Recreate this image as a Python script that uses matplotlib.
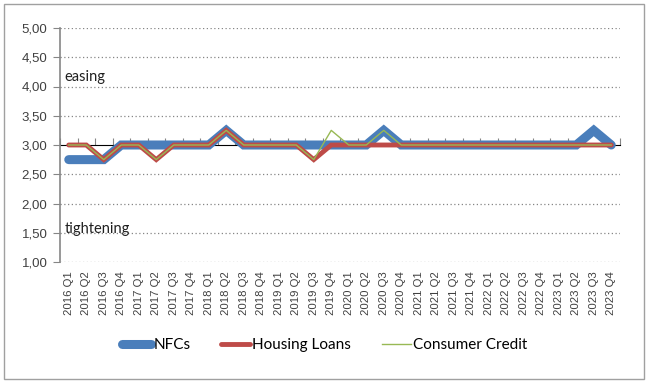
import matplotlib
matplotlib.use("Agg")
import matplotlib.pyplot as plt
from matplotlib.patches import Rectangle
from matplotlib.ticker import FixedLocator, NullFormatter

# quarters 2016 Q1 .. 2023 Q4
quarters = [f"{y} Q{q}" for y in range(2016, 2024) for q in range(1, 5)]

nfcs = [2.75, 2.75, 2.75, 3.0, 3.0, 3.0, 3.0, 3.0,
        3.0, 3.25, 3.0, 3.0, 3.0, 3.0, 3.0, 3.0,
        3.0, 3.0, 3.25, 3.0, 3.0, 3.0, 3.0, 3.0,
        3.0, 3.0, 3.0, 3.0, 3.0, 3.0, 3.25, 3.0]
housing = [3.0, 3.0, 2.75, 3.0, 3.0, 2.75, 3.0, 3.0,
           3.0, 3.25, 3.0, 3.0, 3.0, 3.0, 2.75, 3.0,
           3.0, 3.0, 3.0, 3.0, 3.0, 3.0, 3.0, 3.0,
           3.0, 3.0, 3.0, 3.0, 3.0, 3.0, 3.0, 3.0]
consumer = [3.0, 3.0, 2.75, 3.0, 3.0, 2.75, 3.0, 3.0,
            3.0, 3.25, 3.0, 3.0, 3.0, 3.0, 2.75, 3.25,
            3.0, 3.0, 3.25, 3.0, 3.0, 3.0, 3.0, 3.0,
            3.0, 3.0, 3.0, 3.0, 3.0, 3.0, 3.0, 3.0]
yticks = [1.0, 1.5, 2.0, 2.5, 3.0, 3.5, 4.0, 4.5, 5.0]

plt.rcParams['font.family'] = ['Liberation Sans', 'DejaVu Sans']
fig = plt.figure(figsize=(6.49, 3.84), dpi=100)
ax = fig.add_axes([60/649, 1-262/384, 560/649, 234/384])

x = list(range(len(quarters)))
ax.plot(x, nfcs, color='#4A7EBB', lw=6.5, solid_capstyle='round', solid_joinstyle='miter', label='NFCs', zorder=3)
ax.plot(x, housing, color='#BE4B48', lw=3.5, solid_capstyle='round', solid_joinstyle='miter', label='Housing Loans', zorder=4)
ax.plot(x, consumer, color='#98B954', lw=1.0, label='Consumer Credit', zorder=5)

ax.set_xlim(-0.5, len(quarters) - 0.5)
ax.set_ylim(1.0, 5.0)
ax.set_yticks(yticks)
ax.set_yticklabels([f"{v:.2f}".replace('.', ',') for v in yticks], fontsize=9.5, color='#404040')
for v in yticks:
    if v != 3.0:
        ax.axhline(v, color='#868686', lw=0.9, ls=(0, (1, 2)), zorder=1)

ax.set_xticks(x)
ax.set_xticklabels(quarters, rotation=90, fontsize=8.2, color='#404040')
ax.tick_params(axis='x', length=0, pad=7)
ax.tick_params(axis='y', length=5, color='#868686', direction='out', pad=4)

for s in ['top', 'right', 'bottom']:
    ax.spines[s].set_visible(False)
ax.spines['left'].set_color('#868686')
ax.spines['left'].set_linewidth(1.2)

# category axis crossing at 3.00
sec = ax.secondary_xaxis((3.0 - 1.0) / 4.0)
sec.spines['bottom'].set_color('#868686')
sec.spines['bottom'].set_linewidth(1.2)
sec.xaxis.set_major_locator(FixedLocator([i + 0.5 for i in range(-1, len(quarters))]))
sec.xaxis.set_major_formatter(NullFormatter())
sec.tick_params(axis='x', length=5, color='#868686', direction='out')

ax.text(-0.25, 4.17, 'easing', fontsize=10.5, family=['Lato', 'DejaVu Sans'], color='#202020', va='center')
ax.text(-0.25, 1.56, 'tightening', fontsize=10.5, family=['Lato', 'DejaVu Sans'], color='#202020', va='center')

leg = fig.legend(loc='center', bbox_to_anchor=(0.5, 1-345/384), ncol=3, frameon=False,
                 prop={'family': ['Lato', 'DejaVu Sans'], 'size': 11},
                 handlelength=1.9, handletextpad=0.15, columnspacing=2.0)

fig.patches.append(Rectangle((4/649, 1-379/384), 640/649, 375/384, transform=fig.transFigure,
                             fill=False, edgecolor='#A0A0A0', lw=1.0))

fig.savefig('out.png', dpi=100)
